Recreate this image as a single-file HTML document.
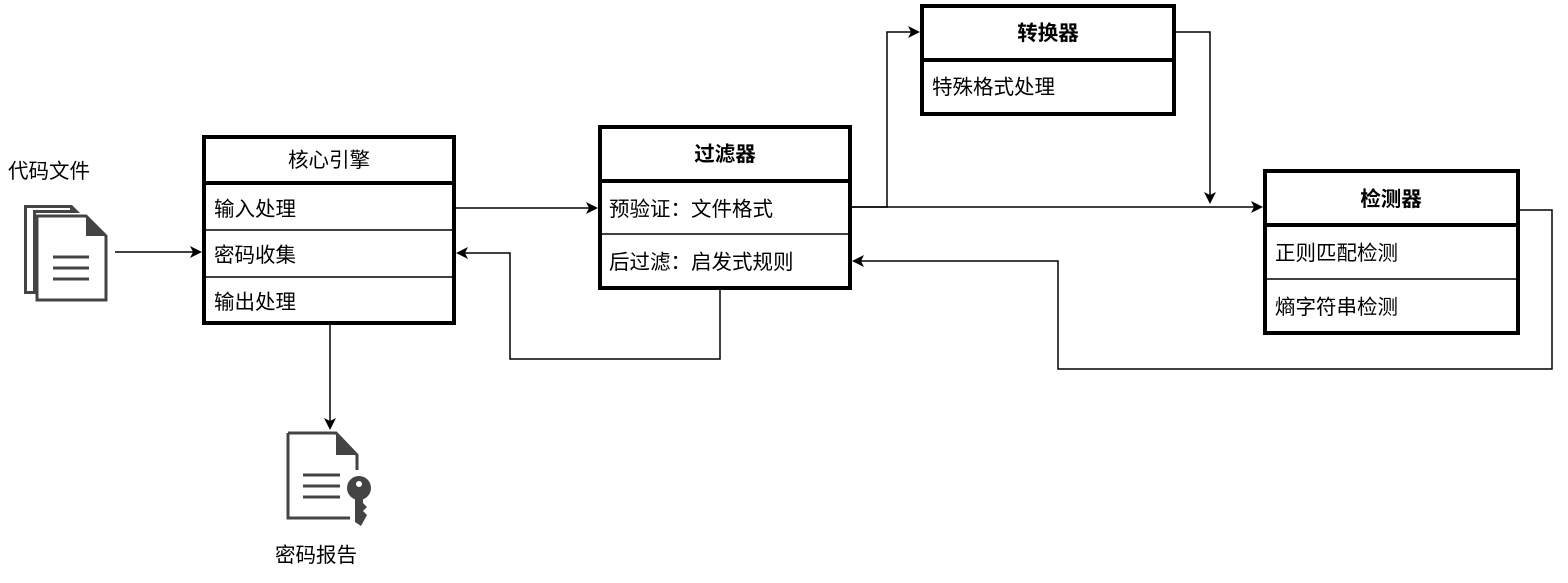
<!DOCTYPE html>
<html><head><meta charset="utf-8"><style>
body{margin:0;background:#fff;}
svg text{font-family:"Liberation Sans","Noto Sans CJK SC",sans-serif;font-size:20.5px;fill:#000;}
</style></head><body>
<svg width="1568" height="578" viewBox="0 0 1568 578" xmlns="http://www.w3.org/2000/svg">
<defs><marker id="a" markerWidth="12" markerHeight="12" refX="10" refY="6" orient="auto" markerUnits="userSpaceOnUse"><path d="M0,0 L12,6 L0,12 L3,6 Z" fill="#000"/></marker></defs>
<g fill="none" stroke="#000" stroke-width="1.5">
<path d="M115,252 H200" marker-end="url(#a)"/>
<path d="M456,208 H596" marker-end="url(#a)"/>
<path d="M720,289 V359 H510 V253 H458" marker-end="url(#a)"/>
<path d="M852,207 H887 V32 H918" marker-end="url(#a)"/>
<path d="M1176,32 H1210 V202"  marker-end="url(#a)"/>
<path d="M852,207 H1261" marker-end="url(#a)"/>
<path d="M1520,210 H1552 V369 H1058 V261 H854" marker-end="url(#a)"/>
<path d="M330,325 V428" marker-end="url(#a)"/>
</g>
<g fill="#fff" stroke="#000">
<rect x="204" y="137" width="250" height="186" stroke-width="4"/>
<line x1="204" y1="183" x2="454" y2="183" stroke-width="4"/>
<line x1="204" y1="230" x2="454" y2="230" stroke-width="1.5"/>
<line x1="204" y1="277" x2="454" y2="277" stroke-width="1.5"/>
<rect x="600" y="127" width="250" height="161" stroke-width="4"/>
<line x1="600" y1="181" x2="850" y2="181" stroke-width="4"/>
<line x1="600" y1="234" x2="850" y2="234" stroke-width="1.5"/>
<rect x="922" y="6" width="252" height="108" stroke-width="4"/>
<line x1="922" y1="60" x2="1174" y2="60" stroke-width="4"/>
<rect x="1265" y="171" width="253" height="162" stroke-width="4"/>
<line x1="1265" y1="225" x2="1518" y2="225" stroke-width="4"/>
<line x1="1265" y1="279" x2="1518" y2="279" stroke-width="1.5"/>
</g>
<text x="329" y="167" text-anchor="middle">核心引擎</text>
<text x="214" y="216">输入处理</text>
<text x="214" y="262">密码收集</text>
<text x="214" y="309">输出处理</text>
<text x="725" y="161" text-anchor="middle" font-weight="bold">过滤器</text>
<text x="609" y="216">预验证：文件格式</text>
<text x="609" y="269">后过滤：启发式规则</text>
<text x="1048" y="40" text-anchor="middle" font-weight="bold">转换器</text>
<text x="932" y="94">特殊格式处理</text>
<text x="1391" y="206" text-anchor="middle" font-weight="bold">检测器</text>
<text x="1275" y="260">正则匹配检测</text>
<text x="1275" y="314">熵字符串检测</text>
<text x="8" y="178">代码文件</text>
<text x="275" y="562">密码报告</text>
<!-- file stack icon -->
<path d="M24,205 H72 L80,213 H36 V294 H24 Z" fill="#444"/>
<path d="M27,208 H70 V210 H33 V291 H27 Z" fill="#fff"/>
<path d="M37,216 H86 L106,236 V300 H37 Z" fill="none" stroke="#444" stroke-width="3"/>
<path d="M86,216 L106,236 H86 Z" fill="#444"/>
<g stroke="#444" stroke-width="3"><line x1="53" y1="257" x2="89" y2="257"/><line x1="53" y1="268" x2="89" y2="268"/><line x1="53" y1="279" x2="89" y2="279"/></g>
<!-- key doc icon -->
<path d="M288,433 H336 L357,455 V470" fill="none" stroke="#444" stroke-width="3"/>
<path d="M288,433 V518 H350" fill="none" stroke="#444" stroke-width="3"/>
<path d="M336,433 L357,455 H336 Z" fill="#444"/>
<g stroke="#444" stroke-width="3"><line x1="303" y1="475" x2="340" y2="475"/><line x1="303" y1="486" x2="340" y2="486"/><line x1="303" y1="497" x2="340" y2="497"/></g>
<circle cx="359" cy="488" r="12" fill="#444"/>
<circle cx="359" cy="484" r="3" fill="#fff"/>
<path d="M355,495 H363 V503 L367,507 L363,511 L367,515 L361,526 L355,522 Z" fill="#444"/>
</svg>
</body></html>
